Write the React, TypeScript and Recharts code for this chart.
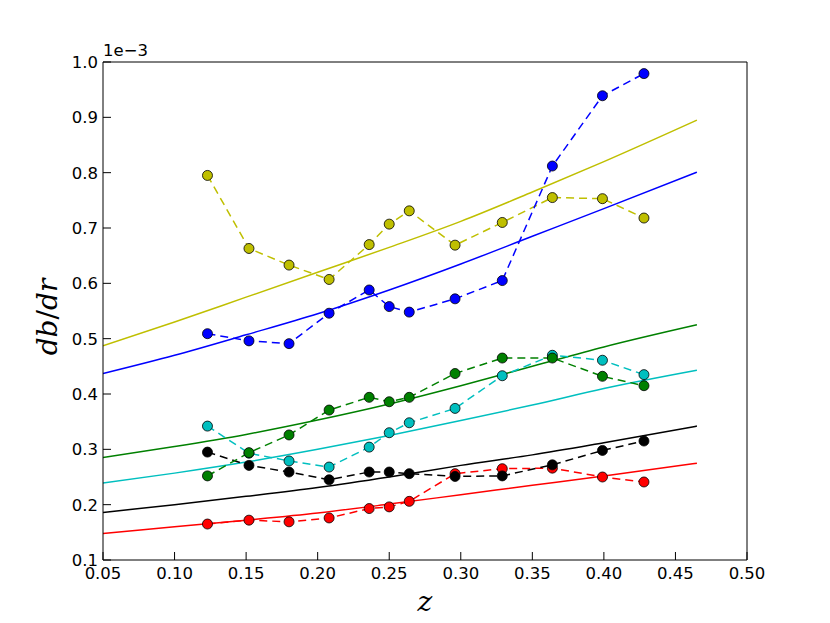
import { Line, LineChart, XAxis, YAxis } from "recharts";

// redshift of the measured points
const zPoints = [0.123, 0.152, 0.18, 0.208, 0.236, 0.25, 0.264, 0.296, 0.329, 0.364, 0.399, 0.428];
// measured db/dr (units of 1e-3)
const yellowPts = [0.795, 0.663, 0.633, 0.607, 0.67, 0.707, 0.731, 0.669, 0.71, 0.755, 0.753, 0.718];
const bluePts = [0.509, 0.496, 0.491, 0.546, 0.588, 0.558, 0.548, 0.572, 0.605, 0.812, 0.939, 0.979];
const greenPts = [0.252, 0.294, 0.326, 0.371, 0.394, 0.386, 0.394, 0.437, 0.465, 0.465, 0.432, 0.415];
const cyanPts = [0.342, 0.293, 0.279, 0.268, 0.304, 0.33, 0.348, 0.374, 0.433, 0.47, 0.461, 0.435];
const blackPts = [0.295, 0.271, 0.259, 0.245, 0.259, 0.259, 0.256, 0.251, 0.252, 0.272, 0.298, 0.315];
const redPts = [0.165, 0.172, 0.169, 0.176, 0.193, 0.196, 0.206, 0.256, 0.265, 0.266, 0.25, 0.241];

const zCurve = [0.05, 0.1, 0.15, 0.2, 0.25, 0.3, 0.35, 0.4, 0.465];
const yellowCurve = [0.487, 0.53, 0.575, 0.62, 0.665, 0.712, 0.765, 0.82, 0.895];
const blueCurve = [0.437, 0.47, 0.507, 0.545, 0.588, 0.635, 0.685, 0.735, 0.801];
const greenCurve = [0.285, 0.305, 0.327, 0.353, 0.382, 0.415, 0.45, 0.485, 0.525];
const cyanCurve = [0.239, 0.257, 0.277, 0.3, 0.325, 0.352, 0.38, 0.41, 0.443];
const blackCurve = [0.186, 0.2, 0.215, 0.231, 0.25, 0.271, 0.29, 0.312, 0.342];
const redCurve = [0.148, 0.16, 0.172, 0.185, 0.201, 0.218, 0.235, 0.252, 0.275];

const xTicks = [0.05, 0.1, 0.15, 0.2, 0.25, 0.3, 0.35, 0.4, 0.45, 0.5];
const yTicks = [0.1, 0.2, 0.3, 0.4, 0.5, 0.6, 0.7, 0.8, 0.9, 1.0];

const series = [
  { name: "yellow", color: "#bfbf00", pts: yellowPts, curve: yellowCurve },
  { name: "blue", color: "#0000ff", pts: bluePts, curve: blueCurve },
  { name: "red", color: "#ff0000", pts: redPts, curve: redCurve },
  { name: "black", color: "#000000", pts: blackPts, curve: blackCurve },
  { name: "cyan", color: "#00bfbf", pts: cyanPts, curve: cyanCurve },
  { name: "green", color: "#008000", pts: greenPts, curve: greenCurve },
];

const toRows = (xs: number[], ys: number[]) => xs.map((z, i) => ({ z, v: ys[i] }));

const font = "'DejaVu Sans', sans-serif";
const TICK = 8;

const BottomTick = ({ x, y, payload }: any) => (
  <g>
    <line x1={x} x2={x} y1={y} y2={y - TICK} stroke="#000" />
    <text x={x} y={y + 19} textAnchor="middle" fontSize={16.5} fontFamily={font} fill="#000">
      {payload.value.toFixed(2)}
    </text>
  </g>
);

const TopTick = ({ x, y }: any) => (
  <line x1={x} x2={x} y1={y} y2={y + TICK} stroke="#000" />
);

const LeftTick = ({ x, y, payload }: any) => (
  <g>
    <line x1={x} x2={x + TICK} y1={y} y2={y} stroke="#000" />
    <text x={x - 5} y={y + 6} textAnchor="end" fontSize={16.5} fontFamily={font} fill="#000">
      {payload.value.toFixed(1)}
    </text>
  </g>
);

const RightTick = ({ x, y }: any) => (
  <line x1={x} x2={x - TICK} y1={y} y2={y} stroke="#000" />
);

const makeDot = (color: string) => (props: any) => {
  const { cx, cy, index } = props;
  return <circle key={index} cx={cx} cy={cy} r={5} fill={color} stroke="#000" strokeWidth={0.8} />;
};

export default function App() {
  return (
    <div style={{ position: "absolute", left: 0, top: 0, width: 830, height: 623, background: "#fff" }}>
      <LineChart width={830} height={623} margin={{ top: 61, right: 82, bottom: 33, left: 43 }}>
        <XAxis
          type="number"
          dataKey="z"
          domain={[0.05, 0.5]}
          ticks={xTicks}
          interval={0}
          allowDataOverflow
          height={30}
          tickSize={0}
          tickMargin={0}
          tickLine={false}
          axisLine={{ stroke: "#000" }}
          tick={<BottomTick />}
        />
        <XAxis
          xAxisId="top"
          orientation="top"
          type="number"
          dataKey="z"
          domain={[0.05, 0.5]}
          ticks={xTicks}
          interval={0}
          height={1}
          tickSize={0}
          tickMargin={0}
          tickLine={false}
          axisLine={{ stroke: "#000" }}
          tick={<TopTick />}
        />
        <YAxis
          type="number"
          domain={[0.1, 1.0]}
          ticks={yTicks}
          interval={0}
          allowDataOverflow
          width={60}
          tickSize={0}
          tickMargin={0}
          tickLine={false}
          axisLine={{ stroke: "#000" }}
          tick={<LeftTick />}
        />
        <YAxis
          yAxisId="right"
          orientation="right"
          type="number"
          domain={[0.1, 1.0]}
          ticks={yTicks}
          interval={0}
          width={1}
          tickSize={0}
          tickMargin={0}
          tickLine={false}
          axisLine={{ stroke: "#000" }}
          tick={<RightTick />}
        />
        {series.map((s) => (
          <Line
            key={s.name + "-curve"}
            data={toRows(zCurve, s.curve)}
            dataKey="v"
            type="monotone"
            stroke={s.color}
            strokeWidth={1.5}
            dot={false}
            activeDot={false}
            isAnimationActive={false}
          />
        ))}
        {series.map((s) => (
          <Line
            key={s.name + "-pts"}
            data={toRows(zPoints, s.pts)}
            dataKey="v"
            type="linear"
            stroke={s.color}
            strokeWidth={1.5}
            strokeDasharray="8 5"
            dot={makeDot(s.color)}
            activeDot={false}
            isAnimationActive={false}
          />
        ))}
      </LineChart>
      <div
        style={{
          position: "absolute",
          left: 103,
          top: 41,
          fontFamily: font,
          fontSize: 16.5,
          lineHeight: "20px",
        }}
      >
        1e−3
      </div>
      <div
        style={{
          position: "absolute",
          left: 47,
          top: 317,
          transform: "translate(-50%, -50%) rotate(-90deg)",
          fontFamily: "'DejaVu Serif', serif",
          fontStyle: "italic",
          fontSize: 28,
          whiteSpace: "nowrap",
        }}
      >
        db<span style={{ fontStyle: "normal" }}>/</span>dr
      </div>
      <div
        style={{
          position: "absolute",
          left: 425,
          top: 601,
          transform: "translate(-50%, -50%)",
          fontFamily: "'DejaVu Serif', serif",
          fontStyle: "italic",
          fontSize: 28,
        }}
      >
        z
      </div>
    </div>
  );
}
